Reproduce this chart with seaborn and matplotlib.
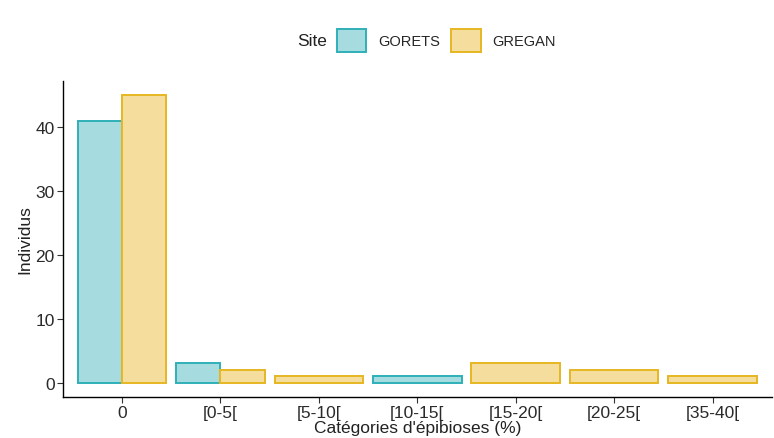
import matplotlib
matplotlib.use("Agg")
import matplotlib.pyplot as plt
import seaborn as sns
import pandas as pd
from matplotlib.patches import Patch

categories = ["0", "[0-5[", "[5-10[", "[10-15[", "[15-20[", "[20-25[", "[35-40["]
gorets = [41, 3, 0, 1, 0, 0, 0]
gregan = [45, 2, 1, 0, 3, 2, 1]
sites = ["GORETS", "GREGAN"]
fills = {"GORETS": "#a6dbe0", "GREGAN": "#f5dd9d"}
edges = {"GORETS": "#2fb0b8", "GREGAN": "#e6b722"}

rows = []
for c, a, b in zip(categories, gorets, gregan):
    if a > 0:
        rows.append({"cat": c, "n": a, "Site": "GORETS"})
    if b > 0:
        rows.append({"cat": c, "n": b, "Site": "GREGAN"})
df = pd.DataFrame(rows)

sns.set_theme(style="ticks")
plt.rcParams["font.family"] = ["Liberation Sans", "DejaVu Sans"]

fig = plt.figure(figsize=(7.74, 4.39), dpi=100)
ax = fig.add_axes([0.0814, 0.0934, 0.9156, 0.7196])

sns.barplot(data=df, x="cat", y="n", hue="Site", order=categories,
            hue_order=sites, palette=fills, dodge=True, width=0.9,
            errorbar=None, ax=ax, legend=False, linewidth=1.4)

# color edges and widen bars for categories with a single site (ggplot dodge behaviour)
counts = df.groupby("cat").size().to_dict()
for cont, site in zip(ax.containers, sites):
    for p in cont.patches:
        p.set_edgecolor(edges[site])
        p.set_facecolor(fills[site])
        p.set_linewidth(1.4)
        cx = p.get_x() + p.get_width() / 2
        idx = int(round(cx))
        if 0 <= idx < len(categories) and counts.get(categories[idx], 0) == 1:
            p.set_x(idx - 0.45)
            p.set_width(0.9)

ax.set_xlim(-0.6, len(categories) - 0.4)
ax.set_ylim(-2.25, 47.25)
ax.set_yticks([0, 10, 20, 30, 40])
ax.set_xlabel("Catégories d'épibioses (%)", fontsize=12.5, labelpad=0, color="#222222")
ax.set_ylabel("Individus", fontsize=12.5, labelpad=2, color="#222222")
ax.tick_params(axis="both", labelsize=12.5, length=4, width=0.8, color="#333333",
               labelcolor="#2a2a2a", pad=2)
for s in ["left", "bottom"]:
    ax.spines[s].set_linewidth(1.0)
    ax.spines[s].set_color("black")
sns.despine(ax=ax)

handles = [Patch(facecolor=fills[s], edgecolor=edges[s], linewidth=1.4) for s in sites]
fig.text(0.384, 0.905, "Site", fontsize=12.5, va="center", ha="left", color="#222222")
fig.legend(handles, sites, loc="center left", bbox_to_anchor=(0.426, 0.905),
           ncol=2, frameon=False, fontsize=10.5, handlelength=2.0, handleheight=2.0,
           columnspacing=0.8, handletextpad=0.8, borderpad=0)

fig.savefig("out.png", dpi=100)
